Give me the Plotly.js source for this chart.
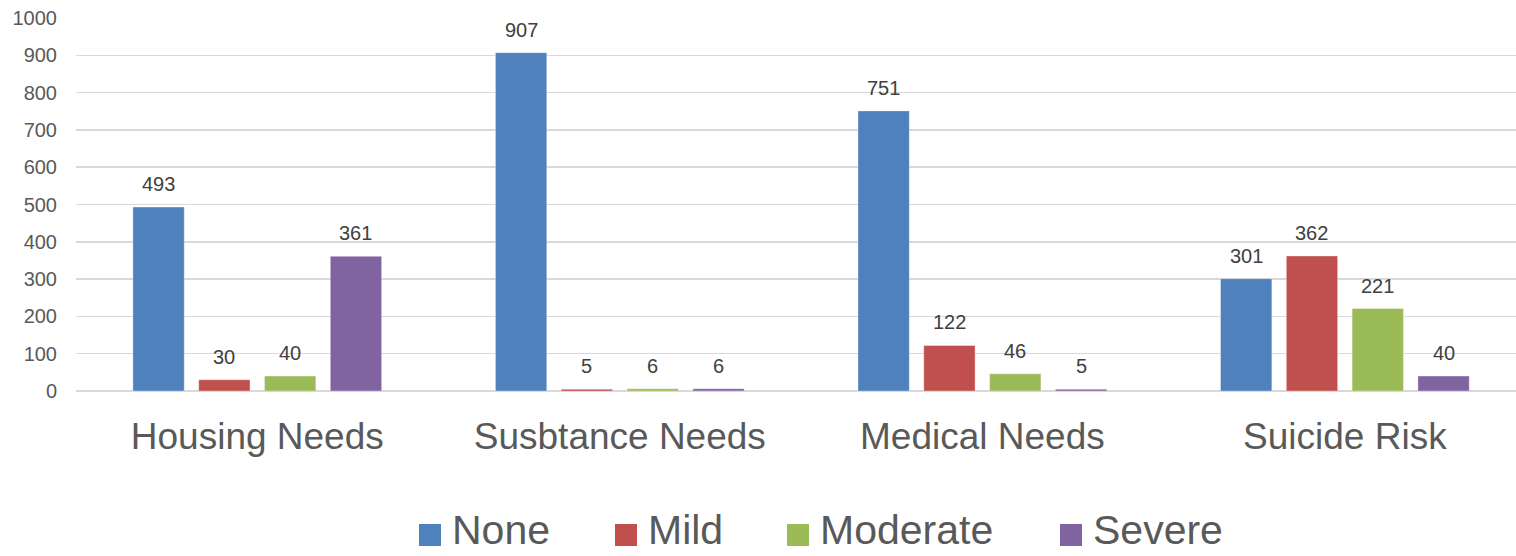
<!DOCTYPE html>
<html>
<head>
<meta charset="utf-8">
<script src="https://cdn.plot.ly/plotly-3.0.1.min.js"></script>
<style>
html,body{margin:0;padding:0;background:#fff;}
#chart{width:1516px;height:556px;}
</style>
</head>
<body>
<div id="chart"></div>
<script>
// ---- data ----
const categories = ["Housing Needs", "Susbtance Needs", "Medical Needs", "Suicide Risk"];
const seriesNames = ["None", "Mild", "Moderate", "Severe"];
const noneValues = [493, 907, 751, 301];
const mildValues = [30, 5, 122, 362];
const moderateValues = [40, 6, 46, 221];
const severeValues = [361, 6, 5, 40];
const yTickValues = [0, 100, 200, 300, 400, 500, 600, 700, 800, 900, 1000];

// ---- styling ----
const colors = ["#4F81BD", "#C0504D", "#9BBB59", "#8064A2"];
const FONT = "Liberation Sans, Arial, sans-serif";
const W = 1516, H = 556;
const margin = {l: 76, r: 0, t: 18, b: 165};
const plotW = W - margin.l - margin.r;
const plotH = H - margin.t - margin.b;
const xRange = [-0.5, 3.472];
const bargap = 0.274, bargroupgap = 0.22;

const allValues = [noneValues, mildValues, moderateValues, severeValues];

const traces = allValues.map((vals, i) => ({
  type: "bar",
  name: seriesNames[i],
  x: categories,
  y: vals,
  marker: {color: colors[i], line: {width: 1, color: "rgba(255,255,255,0.35)"}},
  showlegend: false,
  hoverinfo: "x+y+name"
}));

// bar value labels (positioned relative to each bar through its data value)
const catPx = plotW / (xRange[1] - xRange[0]);
const slotPx = catPx * (1 - bargap) / seriesNames.length;
const annotations = [];
allValues.forEach((vals, i) => {
  vals.forEach((v, c) => {
    annotations.push({
      x: categories[c], y: v, xref: "x", yref: "y",
      xshift: (i - (seriesNames.length - 1) / 2) * slotPx,
      yshift: 10,
      yanchor: "bottom", xanchor: "center",
      text: String(v), showarrow: false,
      font: {family: FONT, size: 20, color: "#404040"}
    });
  });
});

// custom legend (large swatches like the original)
const legendSwatchX = [419, 615, 787, 1060];
const swatchSize = 22;
const swatchCenterY = 535;
const legendTextY = 530;
const shapes = [];
seriesNames.forEach((name, i) => {
  const x0 = (legendSwatchX[i] - margin.l) / plotW;
  const x1 = (legendSwatchX[i] + swatchSize - margin.l) / plotW;
  const y0 = (margin.t + plotH - (swatchCenterY + swatchSize / 2)) / plotH;
  const y1 = (margin.t + plotH - (swatchCenterY - swatchSize / 2)) / plotH;
  shapes.push({type: "rect", xref: "paper", yref: "paper", x0, x1, y0, y1,
    fillcolor: colors[i], line: {width: 0}});
  annotations.push({
    xref: "paper", yref: "paper",
    x: (legendSwatchX[i] + swatchSize + 9 - margin.l) / plotW,
    y: (margin.t + plotH - legendTextY) / plotH,
    xanchor: "left", yanchor: "middle",
    text: name, showarrow: false,
    font: {family: FONT, size: 41, color: "#595959"}
  });
});

const layout = {
  width: W, height: H,
  margin: margin,
  paper_bgcolor: "#ffffff",
  plot_bgcolor: "#ffffff",
  barmode: "group",
  bargap: bargap,
  bargroupgap: bargroupgap,
  showlegend: false,
  font: {family: FONT, color: "#595959"},
  xaxis: {
    type: "category",
    range: xRange,
    tickfont: {family: FONT, size: 37, color: "#595959"},
    showgrid: false, zeroline: false, showline: false,
    ticks: "", ticklabelstandoff: 20
  },
  yaxis: {
    range: [0, 1000],
    tickmode: "array", tickvals: yTickValues, ticktext: yTickValues.map(String),
    tickfont: {family: FONT, size: 20, color: "#595959"},
    showgrid: true, gridcolor: "#D9D9D9", gridwidth: 1.5,
    zeroline: true, zerolinecolor: "#D9D9D9", zerolinewidth: 1.5,
    showline: false, ticks: "", ticklabelstandoff: 18
  },
  annotations: annotations,
  shapes: shapes
};

Plotly.newPlot("chart", traces, layout, {displayModeBar: false, staticPlot: true});
</script>
</body>
</html>
